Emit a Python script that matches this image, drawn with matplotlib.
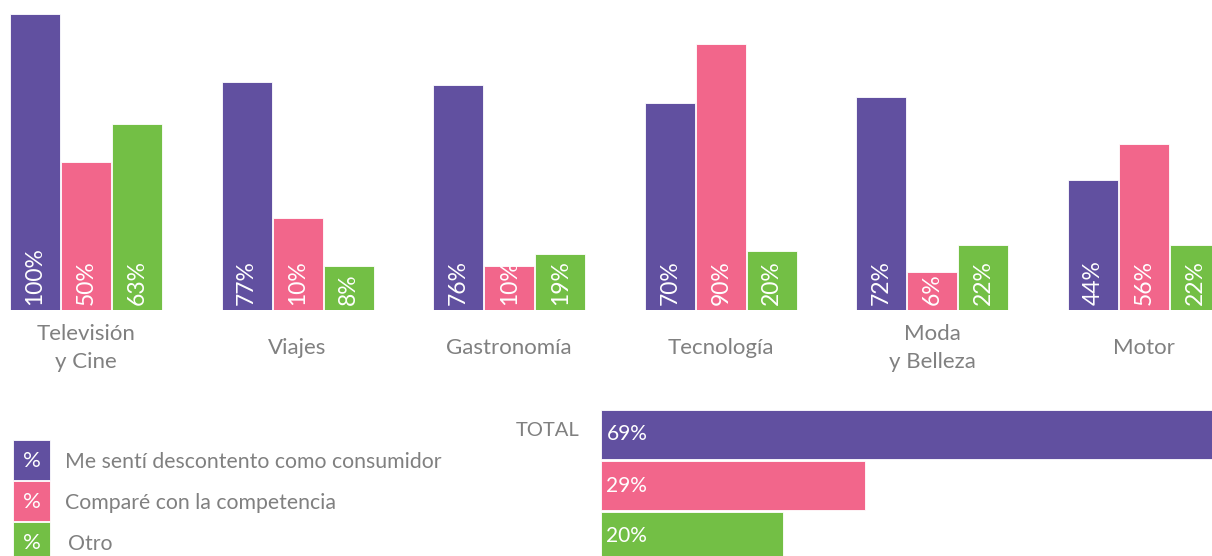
import numpy as np
import matplotlib
matplotlib.use("Agg")
from matplotlib import pyplot as plt
from matplotlib.patches import Rectangle

plt.rcParams["font.family"] = ["Lato", "DejaVu Sans"]

categories = ["Televisión\ny Cine", "Viajes", "Gastronomía", "Tecnología", "Moda\ny Belleza", "Motor"]
series = ["Me sentí descontento como consumidor", "Comparé con la competencia", "Otro"]

# printed percentages
descontento = [100, 77, 76, 70, 72, 44]
competencia = [50, 10, 10, 90, 6, 56]
otro = [63, 8, 19, 20, 22, 22]

# bar lengths as drawn in the picture (small values are drawn taller than their label)
descontento_drawn = [100, 77, 76, 70, 72, 44]
competencia_drawn = [50, 31, 15, 90, 13, 56]
otro_drawn = [63, 15, 19, 20, 22, 22]

total_values = [69, 29, 20]

colors = ["#6150A0", "#F2668B", "#73BF45"]
grey = "#808080"

W, H = 1212, 556
fig = plt.figure(figsize=(W / 100, H / 100), dpi=100)

# overlay axes in pixel units for free text and legend
lax = fig.add_axes([0, 0, 1, 1])
lax.set_xlim(0, W)
lax.set_ylim(H, 0)
lax.axis("off")

# grouped bars
base = 310
ax = fig.add_axes([0, 1 - base / H, 1, base / H])
ax.set_xlim(0, W)
ax.set_ylim(0, base / 2.96)
ax.axis("off")

bar_w = 50
step_in = 51
first, group_step = 10, (1068 - 10) / 5
shown = [descontento, competencia, otro]
drawn = [descontento_drawn, competencia_drawn, otro_drawn]
for j in range(3):
    xs = first + np.arange(len(categories)) * group_step + j * step_in
    ax.bar(xs, drawn[j], width=bar_w, align="edge", color=colors[j],
           edgecolor="white", linewidth=0.6)
    for x, v in zip(xs, shown[j]):
        ax.text(x + bar_w / 2, 1.8, f"{v}%", rotation=90, ha="center", va="bottom",
                color="white", fontsize=16.5)

for i, c in enumerate(categories):
    cx = first + i * group_step + (2 * step_in + bar_w) / 2
    lax.text(cx, 348, c, ha="center", va="center", multialignment="center",
             color=grey, fontsize=16, linespacing=1.5)

# total horizontal bars
top_px = 410
tax = fig.add_axes([601 / W, 0, 1 - 601 / W, (H - top_px) / H])
tax.set_xlim(0, (W - 601) / 9.12)
tax.set_ylim((H - 434.5) / 51, (top_px - 434.5) / 51)
tax.axis("off")
tax.barh(np.arange(3), total_values, height=49 / 51, color=colors,
         edgecolor="white", linewidth=0.6)
for i, v in enumerate(total_values):
    tax.text(0.6, i, f"{v}%", ha="left", va="center", color="white", fontsize=15)

lax.text(580, 430, "TOTAL", ha="right", va="center", color=grey, fontsize=14.5)

# legend
for i, (s, c) in enumerate(zip(series, colors)):
    y0 = 440 + i * 41
    lax.add_patch(Rectangle((13, y0), 37, 40, facecolor=c, edgecolor="white", linewidth=0.6))
    lax.text(31.5, y0 + 21, "%", ha="center", va="center", color="white", fontsize=16)
    lax.text(65 if i < 2 else 68, y0 + 22, s, ha="left", va="center", color=grey,
             fontsize=15.3)

fig.savefig("out.png", dpi=100)
